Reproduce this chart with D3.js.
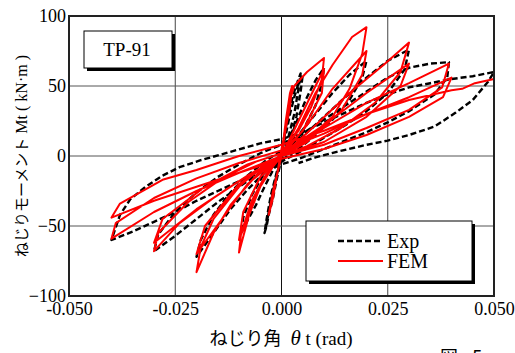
<!DOCTYPE html>
<html>
<head>
<meta charset="utf-8">
<script src="https://cdn.jsdelivr.net/npm/d3@7"></script>
<style>
  body { margin: 0; background: #fff; }
  svg { display: block; }
</style>
</head>
<body>
<script>
// tick values
const xTicks = [-0.05, -0.025, 0, 0.025, 0.05];
const yTicks = [-100, -50, 0, 50, 100];

// Exp (test) hysteresis, [rad, kN·m]
const expData = [
  [0, 0], [0.001, 20], [0.002, 35], [0.003, 46], [0.004, 55], [0.0045, 59], [0.004, 48], [0.003, 30], [0.0015, 12],
  [0, -2], [-0.001, -15], [-0.002, -30], [-0.003, -42], [-0.0035, -50], [-0.004, -55], [-0.0035, -45], [-0.0025, -28],
  [-0.001, -10], [0, 2], [0.001, 15], [0.002, 30], [0.003, 42], [0.004, 52], [0.005, 58], [0.0045, 46], [0.0035, 28],
  [0.002, 12], [0, 0], [-0.001, -12], [-0.002, -25], [-0.003, -38], [-0.0035, -48], [-0.0038, -53], [-0.003, -40],
  [-0.0015, -18], [0, 0],
  [0.002, 12], [0.004, 28], [0.006, 42], [0.008, 54], [0.01, 63], [0.0095, 52], [0.008, 36], [0.005, 18], [0.002, 6],
  [0, -2], [-0.002, -10], [-0.004, -22], [-0.006, -35], [-0.008, -46], [-0.0095, -55], [-0.009, -44], [-0.007, -28],
  [-0.004, -12], [-0.001, -2], [0.001, 4],
  [0.004, 15], [0.008, 30], [0.012, 45], [0.016, 58], [0.02, 68], [0.019, 56], [0.016, 40], [0.012, 26], [0.008, 15],
  [0.004, 5], [0, -3], [-0.004, -12], [-0.008, -24], [-0.012, -38], [-0.016, -55], [-0.02, -72], [-0.019, -60],
  [-0.016, -42], [-0.012, -26], [-0.008, -14], [-0.004, -4], [0, 4],
  [0.005, 14], [0.01, 28], [0.015, 42], [0.02, 56], [0.025, 68], [0.03, 76], [0.029, 62], [0.025, 45], [0.02, 32],
  [0.015, 22], [0.01, 13], [0.005, 4], [0, -4], [-0.005, -12], [-0.01, -22], [-0.015, -33], [-0.02, -45],
  [-0.025, -57], [-0.03, -68], [-0.029, -56], [-0.025, -40], [-0.02, -26], [-0.015, -15], [-0.01, -6], [-0.005, 2], [0, 8],
  [0.005, 16], [0.01, 26], [0.015, 36], [0.02, 46], [0.025, 56], [0.03, 63], [0.035, 66], [0.0394, 67], [0.039, 56],
  [0.036, 44], [0.03, 32], [0.025, 24], [0.02, 17], [0.015, 11], [0.01, 5], [0.005, -1], [0, -6], [-0.005, -12],
  [-0.01, -18], [-0.015, -25], [-0.02, -32], [-0.025, -40], [-0.03, -47], [-0.035, -54], [-0.04, -60], [-0.038, -42],
  [-0.0356, -31], [-0.032, -22], [-0.028, -14], [-0.024, -8], [-0.019, -3], [-0.012, 3], [-0.005, 9], [0, 12],
  [0.005, 17], [0.01, 24], [0.015, 31], [0.02, 38], [0.025, 44], [0.03, 49], [0.035, 52], [0.04, 55], [0.045, 57],
  [0.05, 60], [0.0486, 53], [0.045, 40], [0.041, 31], [0.036, 21], [0.03, 15], [0.025, 11], [0.02, 8], [0.013, 3],
  [0.008, -1], [0.004, -5]
];

// FEM hysteresis, [rad, kN·m]
const femData = [
  [0, 0], [0.001, 25], [0.002, 45], [0.0025, 50], [0.002, 35], [0, 5], [-0.002, -30], [-0.003, -42], [-0.002, -25], [0, 0],
  [0.002, 40], [0.003, 50], [0.006, 60], [0.01, 70], [0.0095, 55], [0.007, 35], [0.004, 18], [0, 3], [-0.004, -15],
  [-0.007, -35], [-0.01, -69], [-0.0095, -55], [-0.007, -32], [-0.004, -15], [0, 0],
  [0.004, 25], [0.008, 50], [0.01, 62], [0.0095, 45], [0.005, 18], [0, 2], [-0.005, -22], [-0.01, -60], [-0.009, -40],
  [-0.005, -15], [0, 0],
  [0.004, 20], [0.008, 45], [0.012, 65], [0.0166, 85], [0.02, 92], [0.019, 73], [0.016, 48], [0.012, 28], [0.006, 12],
  [0, 0], [-0.006, -14], [-0.012, -35], [-0.016, -55], [-0.02, -83], [-0.019, -65], [-0.016, -45], [-0.01, -22],
  [-0.004, -6], [0, 0],
  [0.006, 22], [0.012, 48], [0.02, 75], [0.019, 58], [0.014, 32], [0.006, 10], [0, 0], [-0.008, -20], [-0.02, -70],
  [-0.018, -50], [-0.01, -20], [0, 0],
  [0.008, 22], [0.016, 45], [0.024, 65], [0.03, 81], [0.028, 60], [0.022, 38], [0.014, 20], [0.006, 7], [0, 0],
  [-0.008, -14], [-0.016, -30], [-0.024, -48], [-0.03, -68], [-0.029, -55], [-0.022, -33], [-0.014, -16], [-0.006, -4], [0, 2],
  [0.01, 22], [0.02, 45], [0.03, 66], [0.028, 50], [0.02, 28], [0.01, 10], [0, 0], [-0.01, -18], [-0.02, -38],
  [-0.03, -62], [-0.028, -45], [-0.018, -22], [-0.008, -6], [0, 2],
  [0.01, 20], [0.02, 38], [0.03, 52], [0.0394, 66], [0.0378, 49], [0.03, 33], [0.02, 20], [0.01, 8], [0, 0],
  [-0.01, -12], [-0.02, -25], [-0.03, -40], [-0.04, -59], [-0.039, -48], [-0.03, -30], [-0.02, -16], [-0.01, -5], [0, 4],
  [0.01, 16], [0.02, 30], [0.03, 42], [0.04, 56], [0.038, 42], [0.03, 28], [0.02, 15], [0.01, 5], [0, -2],
  [-0.01, -12], [-0.02, -22], [-0.03, -32], [-0.04, -44], [-0.038, -34], [-0.028, -17], [-0.02, -10], [-0.01, 0], [0, 8],
  [0.01, 18], [0.02, 30], [0.03, 40], [0.04, 47], [0.0425, 48], [0.0455, 52], [0.05, 55]
];

const width = 515;
const height = 353;
const marginTop = 16;
const marginRight = 21;
const marginBottom = 57;
const marginLeft = 69;

const serif = '"Liberation Serif", serif';
const jp = '"Noto Sans CJK JP", sans-serif';

const svg = d3
  .select('body')
  .append('svg')
  .attr('width', width)
  .attr('height', height)
  .attr('viewBox', [0, 0, width, height]);

// Declare the scales.
const x = d3.scaleLinear().domain([-0.05, 0.05]).range([marginLeft, width - marginRight]);
const y = d3.scaleLinear().domain([-100, 100]).range([height - marginBottom, marginTop]);

// Grid lines
svg
  .append('g')
  .selectAll('line')
  .data(xTicks.slice(1, -1))
  .join('line')
  .attr('x1', (d) => x(d))
  .attr('x2', (d) => x(d))
  .attr('y1', marginTop)
  .attr('y2', height - marginBottom)
  .attr('stroke', (d) => (d === 0 ? '#111' : '#444'))
  .attr('stroke-width', 1);
svg
  .append('g')
  .selectAll('line')
  .data(yTicks.slice(1, -1))
  .join('line')
  .attr('x1', marginLeft)
  .attr('x2', width - marginRight)
  .attr('y1', (d) => y(d))
  .attr('y2', (d) => y(d))
  .attr('stroke', '#555')
  .attr('stroke-width', 1);

// Curves
const line = d3
  .line()
  .x((d) => x(d[0]))
  .y((d) => y(d[1]));

svg
  .append('path')
  .attr('fill', 'none')
  .attr('stroke', 'black')
  .attr('stroke-width', 2.4)
  .attr('stroke-dasharray', '6,3')
  .attr('stroke-linejoin', 'round')
  .attr('d', line(expData));

svg
  .append('path')
  .attr('fill', 'none')
  .attr('stroke', '#ff0000')
  .attr('stroke-width', 2)
  .attr('stroke-linejoin', 'round')
  .attr('d', line(femData));

// Frame
svg
  .append('rect')
  .attr('x', marginLeft)
  .attr('y', marginTop)
  .attr('width', width - marginLeft - marginRight)
  .attr('height', height - marginTop - marginBottom)
  .attr('fill', 'none')
  .attr('stroke', '#222')
  .attr('stroke-width', 2);

// Axes
svg
  .append('g')
  .attr('transform', `translate(0,${height - marginBottom})`)
  .call(
    d3
      .axisBottom(x)
      .tickValues(xTicks)
      .tickSize(0)
      .tickPadding(6)
      .tickFormat((d) => d.toFixed(3))
  )
  .attr('font-family', serif)
  .attr('font-size', 18)
  .call((g) => g.select('.domain').remove())
  .call((g) => g.selectAll('text').attr('fill', '#000'));

svg
  .append('g')
  .attr('transform', `translate(${marginLeft},0)`)
  .call(d3.axisLeft(y).tickValues(yTicks).tickSize(0).tickPadding(3))
  .attr('font-family', serif)
  .attr('font-size', 18)
  .call((g) => g.select('.domain').remove())
  .call((g) => g.selectAll('text').attr('fill', '#000'));

// Axis labels
const yl = svg
  .append('text')
  .attr('transform', `translate(27,${(marginTop + height - marginBottom) / 2}) rotate(-90)`)
  .attr('text-anchor', 'middle');
yl.append('tspan').style('font-family', jp).style('font-size', '15px').text('ねじりモーメント');
yl.append('tspan').style('font-family', serif).style('font-size', '16px').text(' Mt ( kN·m )');

const xl = svg
  .append('text')
  .attr('x', 281)
  .attr('y', 345)
  .attr('text-anchor', 'middle');
xl.append('tspan').style('font-family', jp).style('font-size', '18px').text('ねじり角\u2002');
xl.append('tspan').style('font-family', serif).style('font-style', 'italic').style('font-size', '21px').text('θ');
xl.append('tspan').style('font-family', serif).style('font-size', '19px').text(' t (rad)');

// Caption, cut off at the bottom edge
svg
  .append('text')
  .attr('x', 440)
  .attr('y', 364)
  .style('font-family', jp)
  .style('font-size', '18px')
  .text('図 - 5');

// Title box
svg.append('rect').attr('x', 87).attr('y', 34).attr('width', 88).attr('height', 37).attr('fill', 'black');
svg
  .append('rect')
  .attr('x', 84)
  .attr('y', 31)
  .attr('width', 88)
  .attr('height', 37)
  .attr('fill', 'white')
  .attr('stroke', 'black')
  .attr('stroke-width', 1);
svg
  .append('text')
  .attr('x', 127)
  .attr('y', 56)
  .attr('text-anchor', 'middle')
  .style('font-family', serif)
  .style('font-size', '19px')
  .text('TP-91');

// Handmade legend
svg.append('rect').attr('x', 309).attr('y', 224).attr('width', 166).attr('height', 60).attr('fill', 'black');
svg
  .append('rect')
  .attr('x', 306)
  .attr('y', 221)
  .attr('width', 166)
  .attr('height', 60)
  .attr('fill', 'white')
  .attr('stroke', 'black')
  .attr('stroke-width', 1);
svg
  .append('line')
  .attr('x1', 338)
  .attr('x2', 383)
  .attr('y1', 241)
  .attr('y2', 241)
  .attr('stroke', 'black')
  .attr('stroke-width', 2.4)
  .attr('stroke-dasharray', '6,3');
svg
  .append('line')
  .attr('x1', 338)
  .attr('x2', 383)
  .attr('y1', 261)
  .attr('y2', 261)
  .attr('stroke', '#ff0000')
  .attr('stroke-width', 2);
svg
  .append('text')
  .attr('x', 387)
  .attr('y', 248)
  .style('font-family', serif)
  .style('font-size', '20px')
  .text('Exp');
svg
  .append('text')
  .attr('x', 387)
  .attr('y', 268)
  .style('font-family', serif)
  .style('font-size', '20px')
  .text('FEM');
</script>
</body>
</html>
